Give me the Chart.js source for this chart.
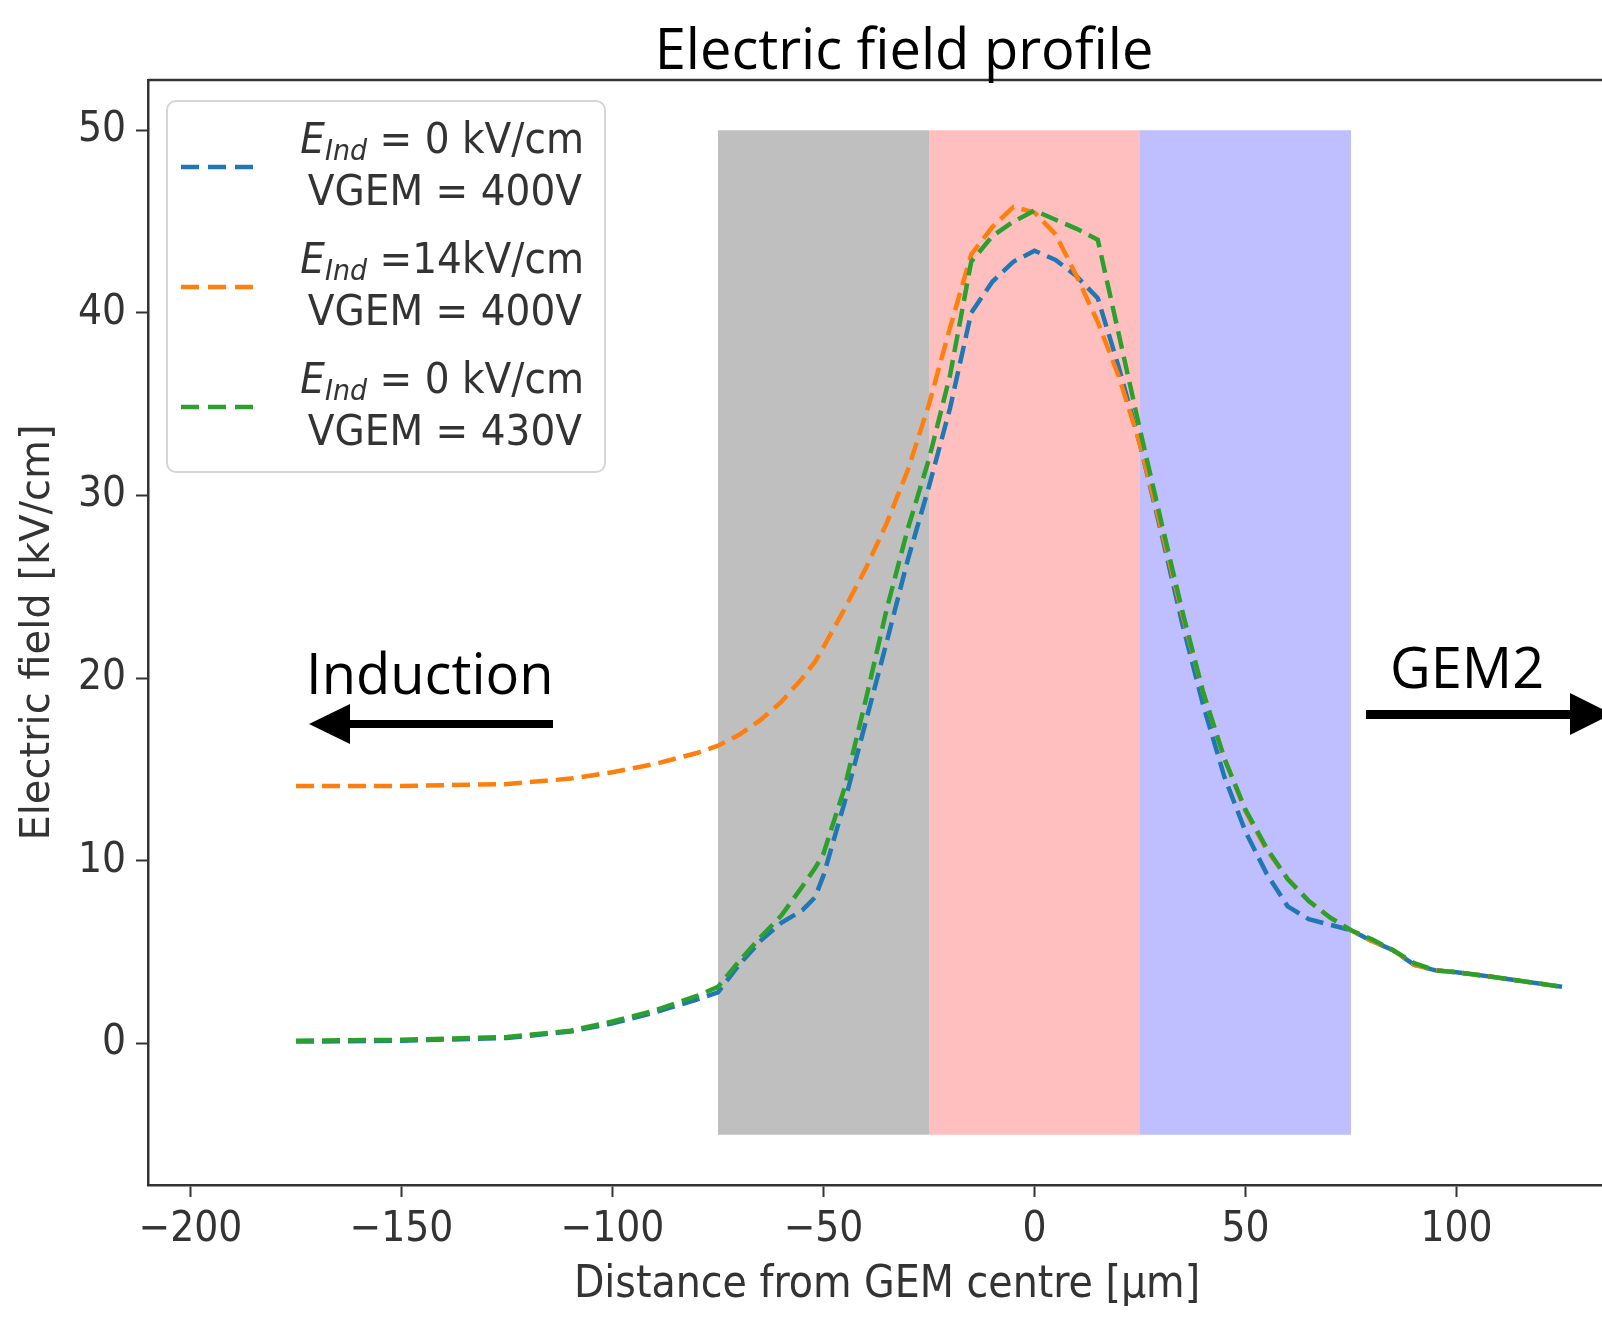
<!DOCTYPE html>
<html>
<head>
<meta charset="utf-8">
<title>Electric field profile</title>
<script src="https://cdn.jsdelivr.net/npm/chart.js@4.4.1/dist/chart.umd.min.js"></script>
<style>
  html, body { margin: 0; padding: 0; background: #fff; overflow: hidden; }
  #wrap { width: 1602px; height: 1321px; overflow: hidden; }
</style>
</head>
<body>
<!-- the source figure is cut on its right edge, so the canvas runs a bit past the page -->
<div id="wrap"><canvas id="myChart" width="1626" height="1321"></canvas></div>
<script>
// values (distance in um, field in kV/cm)
var distance = [-175, -150, -125, -110, -100, -90, -80, -75, -70, -65, -60, -55, -52, -50, -45, -40, -35, -30, -25, -20, -15, -10, -5, 0, 5, 10, 15, 20, 25, 30, 35, 40, 45, 50, 55, 60, 65, 70, 75, 80, 85, 90, 95, 100, 110, 125];

var fieldInd0V400 = [0.1, 0.15, 0.3, 0.65, 1.1, 1.7, 2.4, 2.8, 4.3, 5.6, 6.6, 7.3, 8.0, 9.2, 13.2, 17.6, 22.0, 26.5, 30.5, 34.8, 40.0, 41.7, 42.8, 43.4, 42.9, 42.0, 40.8, 37.0, 32.8, 28.0, 23.0, 18.5, 14.6, 11.6, 9.3, 7.5, 6.8, 6.5, 6.2, 5.6, 5.1, 4.3, 4.0, 3.9, 3.6, 3.1];

var fieldInd14V400 = [14.1, 14.1, 14.2, 14.5, 14.85, 15.3, 15.9, 16.3, 16.9, 17.7, 18.7, 20.0, 20.9, 21.7, 23.8, 26.0, 28.5, 31.4, 35.0, 39.2, 43.2, 44.7, 45.8, 45.5, 44.3, 42.0, 39.5, 36.5, 32.8, 28.2, 23.5, 19.2, 15.6, 12.7, 10.6, 9.0, 7.8, 6.9, 6.2, 5.6, 5.1, 4.3, 4.0, 3.9, 3.6, 3.1];

var fieldInd0V430 = [0.15, 0.2, 0.35, 0.7, 1.2, 1.8, 2.6, 3.1, 4.5, 5.8, 7.0, 8.6, 9.6, 10.4, 14.0, 18.8, 23.8, 28.2, 32.0, 36.6, 42.8, 44.2, 45.0, 45.6, 45.1, 44.6, 44.0, 38.8, 33.6, 28.6, 23.7, 19.2, 15.6, 12.8, 10.7, 9.0, 7.8, 6.9, 6.2, 5.7, 5.1, 4.4, 4.0, 3.9, 3.6, 3.1];

var seriesValues = [fieldInd0V400, fieldInd14V400, fieldInd0V430];
var seriesLabels = [
  ['E_Ind = 0 kV/cm', 'VGEM = 400V'],
  ['E_Ind =14kV/cm', 'VGEM = 400V'],
  ['E_Ind = 0 kV/cm', 'VGEM = 430V']
];
var seriesColors = ['#1f77b4', '#ff7f0e', '#2ca02c'];

// shaded bands
var bandEdges = [-75, -25, 25, 75];
var bandBottom = -5;
var bandTop = 50;
var bandColors = ['rgba(128,128,128,0.5)', 'rgba(255,0,0,0.25)', 'rgba(0,0,255,0.25)'];

var xTicks = [-200, -150, -100, -50, 0, 50, 100];
var yTicks = [0, 10, 20, 30, 40, 50];

var tickFont = 'DejaVu Sans Condensed, DejaVu Sans';
var textColor = '#333';

var datasets = [];
for (var b = 0; b < bandColors.length; b++) {
  datasets.push({
    label: 'band' + b,
    data: [{x: bandEdges[b], y: bandTop}, {x: bandEdges[b + 1], y: bandTop}],
    fill: {value: bandBottom},
    backgroundColor: bandColors[b],
    borderColor: 'rgba(0,0,0,0)',
    borderWidth: 0,
    pointRadius: 0,
    order: 10
  });
}
seriesValues.forEach(function (vals, i) {
  datasets.push({
    label: seriesLabels[i].join(' / '),
    data: distance.map(function (x, k) { return {x: x, y: vals[k]}; }),
    borderColor: seriesColors[i],
    borderWidth: 4.5,
    borderDash: [18, 8],
    pointRadius: 0,
    fill: false,
    tension: 0,
    order: 3 - i
  });
});

function minusFmt(v) { return v < 0 ? '\u2212' + Math.abs(v) : String(v); }

// text squeezed a little sideways, like the source picture
var sx = 0.93;
function squeezed(ctx, text, x, y, font, align) {
  ctx.save();
  ctx.font = font;
  var w = ctx.measureText(text).width * sx;
  var left = align === 'right' ? x - w : x;
  ctx.translate(left, y);
  ctx.scale(sx, 1);
  ctx.textAlign = 'left';
  ctx.fillText(text, 0, 0);
  ctx.restore();
  return w;
}
function squeezedWidth(ctx, text, font) {
  ctx.font = font;
  return ctx.measureText(text).width * sx;
}

// legend, title, notes and top frame line
var overlay = {
  id: 'overlay',
  afterDraw: function (chart) {
    var ctx = chart.ctx;
    var area = chart.chartArea;
    ctx.save();

    ctx.strokeStyle = textColor;
    ctx.lineWidth = 2.5;
    ctx.beginPath();
    ctx.moveTo(area.left, area.top);
    ctx.lineTo(area.right, area.top);
    ctx.stroke();

    // legend box
    ctx.beginPath();
    ctx.roundRect(167, 101, 438, 371, 9);
    ctx.fillStyle = 'rgba(255,255,255,0.8)';
    ctx.fill();
    ctx.strokeStyle = '#d6d6d6';
    ctx.lineWidth = 2;
    ctx.stroke();

    var fMain = '42px "DejaVu Sans"';
    var fIt = 'italic 42px "DejaVu Sans"';
    var fSub = 'italic 29px "DejaVu Sans"';
    ctx.textBaseline = 'alphabetic';
    seriesLabels.forEach(function (lines, i) {
      var yLine = 167 + i * 120;
      ctx.strokeStyle = seriesColors[i];
      ctx.lineWidth = 4.5;
      ctx.setLineDash([18, 9]);
      ctx.beginPath();
      ctx.moveTo(181, yLine);
      ctx.lineTo(253, yLine);
      ctx.stroke();
      ctx.setLineDash([]);

      ctx.fillStyle = textColor;
      var right = 584;
      var base1 = 153 + i * 120;
      var rest = lines[0].replace('E_Ind', '');
      var wE = squeezedWidth(ctx, 'E', fIt);
      var wS = squeezedWidth(ctx, 'Ind', fSub);
      var wR = squeezedWidth(ctx, rest, fMain);
      var x0 = right - (wE + wS + wR);
      squeezed(ctx, 'E', x0, base1, fIt, 'left');
      squeezed(ctx, 'Ind', x0 + wE, base1 + 7, fSub, 'left');
      squeezed(ctx, rest, x0 + wE + wS, base1, fMain, 'left');
      squeezed(ctx, lines[1], right - 2, base1 + 52, fMain, 'right');
    });

    // title and side notes
    ctx.fillStyle = '#000';
    ctx.font = '56px "Open Sans"';
    ctx.textAlign = 'center';
    ctx.fillText('Electric field profile', 904, 69);
    ctx.textAlign = 'left';
    ctx.fillText('Induction', 306, 694);
    ctx.fillText('GEM2', 1390, 688);

    // arrows
    ctx.fillRect(348, 720, 205, 8);
    ctx.beginPath();
    ctx.moveTo(309, 724);
    ctx.lineTo(350, 704);
    ctx.lineTo(350, 744);
    ctx.closePath();
    ctx.fill();

    ctx.fillRect(1366, 710, 206, 9);
    ctx.beginPath();
    ctx.moveTo(1612, 714);
    ctx.lineTo(1570, 693);
    ctx.lineTo(1570, 735);
    ctx.closePath();
    ctx.fill();

    ctx.restore();
  }
};

new Chart('myChart', {
  type: 'line',
  data: {datasets: datasets},
  options: {
    responsive: false,
    animation: false,
    devicePixelRatio: 1,
    layout: {padding: {top: 80, left: 0, right: 0, bottom: 0}},
    plugins: {
      legend: {display: false},
      tooltip: {enabled: false},
      title: {display: false}
    },
    scales: {
      x: {
        type: 'linear',
        min: -210.0711,
        max: 140.1659,
        afterBuildTicks: function (s) { s.ticks = xTicks.map(function (v) { return {value: v}; }); },
        afterFit: function (s) { s.height = 136; },
        grid: {drawOnChartArea: false, drawTicks: true, tickLength: 12, tickWidth: 2, tickColor: textColor},
        border: {display: true, color: textColor, width: 2.5},
        ticks: {font: {family: tickFont, size: 42}, color: textColor, padding: 8, maxRotation: 0, autoSkip: false, callback: minusFmt},
        title: {display: true, text: 'Distance from GEM centre [\u03bcm]', color: textColor, font: {family: tickFont, size: 44}, padding: {top: 0, bottom: 9}}
      },
      y: {
        type: 'linear',
        min: -7.75,
        max: 52.75,
        afterBuildTicks: function (s) { s.ticks = yTicks.map(function (v) { return {value: v}; }); },
        afterFit: function (s) { s.width = 148; },
        grid: {drawOnChartArea: false, drawTicks: true, tickLength: 12, tickWidth: 2, tickColor: textColor},
        border: {display: true, color: textColor, width: 2.5},
        ticks: {font: {family: tickFont, size: 42}, color: textColor, padding: 10, callback: minusFmt},
        title: {display: true, text: 'Electric field [kV/cm]', color: textColor, font: {family: 'DejaVu Sans', size: 40}, padding: {top: 15, bottom: 0}}
      }
    }
  },
  plugins: [overlay]
});
</script>
</body>
</html>
